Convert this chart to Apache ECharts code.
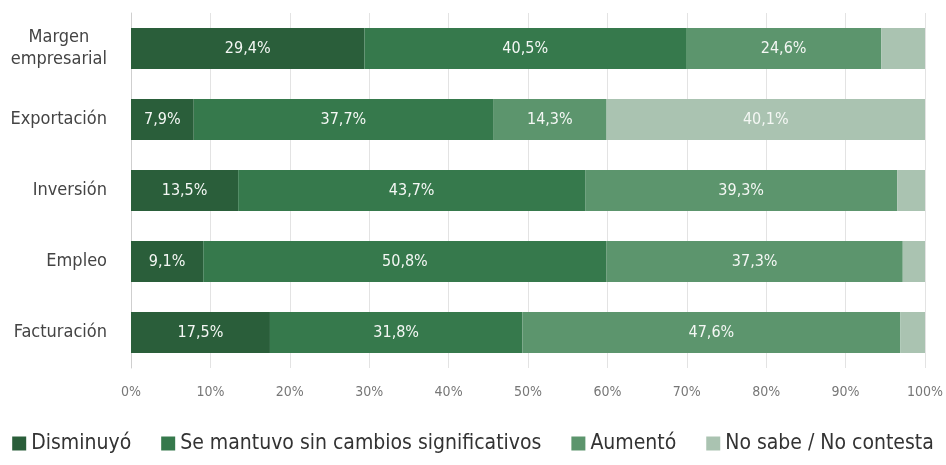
<!DOCTYPE html>
<html>
<head>
<meta charset="utf-8">
<script src="https://cdn.jsdelivr.net/npm/echarts@6/dist/echarts.min.js"></script>
<style>
  html, body { margin: 0; padding: 0; background: #fff; }
  #myChart { width: 946px; height: 465px; }
</style>
</head>
<body>
<div id="myChart"></div>
<script>
// categorias (de abajo hacia arriba)
var categories = ['Facturación', 'Empleo', 'Inversión', 'Exportación', 'Margen\nempresarial']
var seriesNames = ['Disminuyó', 'Se mantuvo sin cambios significativos', 'Aumentó', 'No sabe / No contesta']
var disminuyo = [17.5, 9.1, 13.5, 7.9, 29.4]
var seMantuvo = [31.8, 50.8, 43.7, 37.7, 40.5]
var aumento = [47.6, 37.3, 39.3, 14.3, 24.6]
var noSabe = [3.1, 2.8, 3.5, 40.1, 5.5]
var xTicks = [0, 10, 20, 30, 40, 50, 60, 70, 80, 90, 100]

var colors = ['#2a5e3a', '#36794c', '#5c956d', '#aac3b1']
var font = '"Liberation Sans Narrow", "DejaVu Sans Condensed", "Roboto", sans-serif'

function fmt (v) {
  return v.toFixed(1).replace('.', ',') + '%'
}

function makeSeries (name, data, i) {
  return {
    name: name,
    type: 'bar',
    stack: 'total',
    barWidth: '58%',
    data: data,
    itemStyle: { color: colors[i] },
    label: {
      show: true,
      color: '#f4f7f4',
      fontFamily: font,
      fontSize: 16,
      formatter: function (p) {
        return p.value < 6 ? '' : fmt(p.value)
      }
    },
    emphasis: { disabled: true }
  }
}

var myChart = echarts.init(document.getElementById('myChart'))
myChart.setOption({
  animation: false,
  color: colors,
  grid: { left: 131, right: 19, top: 13, bottom: 97 },
  legend: {
    bottom: 6,
    left: 'center',
    itemWidth: 14,
    itemHeight: 14,
    itemGap: 30,
    icon: 'rect',
    textStyle: { fontFamily: font, fontSize: 21, color: '#333' },
    data: seriesNames
  },
  xAxis: {
    type: 'value',
    min: 0,
    max: 100,
    interval: 10,
    axisLine: { show: false },
    axisTick: { show: false },
    splitLine: { show: true, lineStyle: { color: '#e3e3e3' } },
    axisLabel: {
      margin: 17,
      color: '#777',
      fontFamily: font,
      fontSize: 14,
      formatter: function (v) { return v + '%' }
    }
  },
  yAxis: {
    type: 'category',
    data: categories,
    axisLine: { show: true, lineStyle: { color: '#cfcfcf' } },
    axisTick: { show: false },
    axisLabel: {
      margin: 24,
      color: '#444',
      fontFamily: font,
      fontSize: 18,
      lineHeight: 22,
      align: 'right',
      formatter: function (v) {
        return v.split('\n').map(function (s) { return '{c|' + s + '}' }).join('\n')
      },
      rich: {
        c: { align: 'center', fontFamily: font, fontSize: 18, lineHeight: 22, color: '#444' }
      }
    }
  },
  series: [
    makeSeries(seriesNames[0], disminuyo, 0),
    makeSeries(seriesNames[1], seMantuvo, 1),
    makeSeries(seriesNames[2], aumento, 2),
    makeSeries(seriesNames[3], noSabe, 3)
  ]
})
</script>
</body>
</html>
